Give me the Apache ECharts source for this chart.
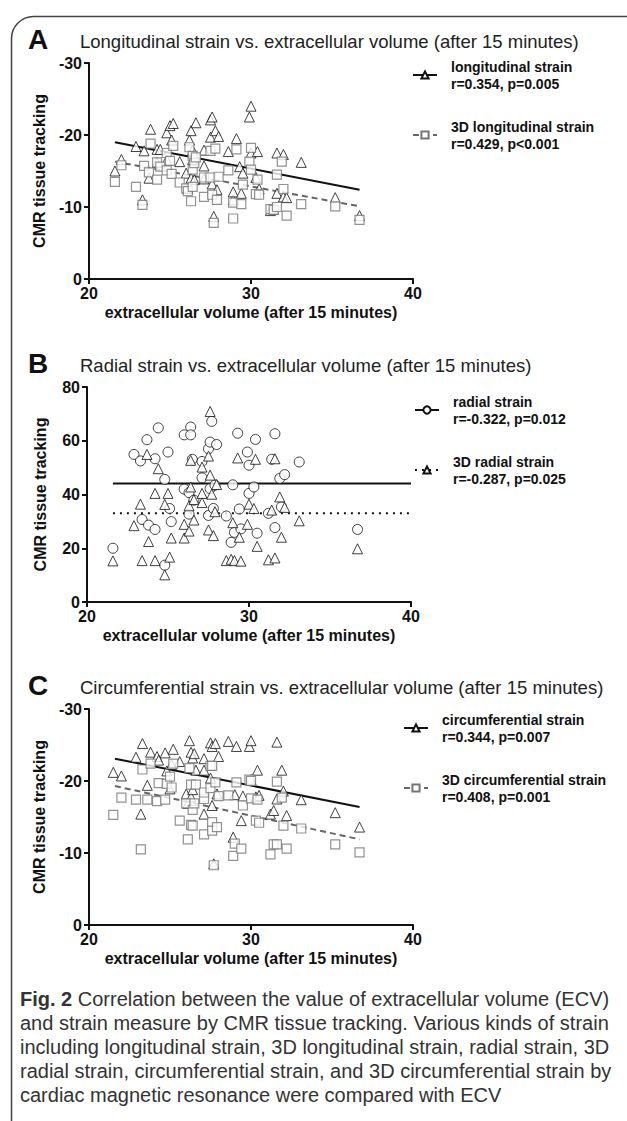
<!DOCTYPE html>
<html>
<head>
<meta charset="utf-8">
<script src="https://cdn.jsdelivr.net/npm/echarts@6/dist/echarts.min.js"></script>
<style>
  html, body { margin: 0; padding: 0; background: #fff; }
  #main { width: 627px; height: 1121px; }
</style>
</head>
<body>
<div id="main"></div>
<script>
// ---- data ----
// panel A: longitudinal strain (triangles) and 3D longitudinal strain (squares)
let longStrain = [[21.6,-15.0],[22.0,-16.6],[22.9,-18.4],[23.3,-11.0],[23.4,-17.8],[23.7,-14.0],[23.8,-20.8],[24.2,-18.0],[24.4,-18.0],[24.2,-16.2],
    [24.8,-20.3],[24.8,-16.5],[25.0,-21.3],[25.2,-21.6],[25.1,-19.3],[25.6,-16.3],[26.0,-14.7],[26.1,-12.6],[26.2,-19.3],[26.3,-20.6],
    [26.3,-14.0],[26.4,-16.6],[26.4,-17.9],[26.5,-13.8],[26.6,-21.7],[27.1,-17.9],[27.1,-15.7],[27.1,-13.9],[27.5,-22.1],[27.6,-22.5],
    [27.5,-19.7],[27.6,-13.2],[27.7,-8.7],[27.8,-20.6],[27.9,-12.4],[28.0,-19.8],[28.6,-17.7],[28.9,-11.0],[28.9,-12.1],[29.1,-19.5],
    [29.3,-15.6],[29.4,-11.9],[29.5,-14.7],[29.9,-22.5],[30.0,-24.0],[30.0,-17.5],[30.3,-14.1],[30.4,-17.7],[30.5,-12.5],[31.2,-9.5],
    [31.4,-9.7],[31.6,-17.5],[31.6,-11.9],[32.0,-17.3],[32.0,-11.4],[32.2,-11.3],[33.1,-16.2],[35.2,-11.3],[36.7,-8.8]];
let longStrain3D = [[21.6,-13.5],[22.0,-15.8],[22.9,-12.8],[23.3,-10.3],[23.4,-15.7],[23.7,-14.8],[23.8,-18.8],[24.2,-13.8],[24.2,-16.2],[24.4,-15.6],
    [24.8,-17.5],[24.8,-15.1],[25.0,-16.4],[25.1,-14.6],[25.2,-18.5],[25.6,-13.4],[26.0,-12.6],[26.1,-12.2],[26.2,-18.3],[26.3,-10.8],
    [26.4,-17.1],[26.4,-15.2],[26.4,-12.8],[26.5,-16.1],[26.6,-16.9],[27.1,-11.4],[27.1,-14.1],[27.5,-17.8],[27.5,-14.1],[27.6,-11.7],
    [27.7,-7.8],[27.8,-18.1],[27.9,-11.0],[28.0,-14.2],[28.6,-15.1],[28.9,-8.4],[28.9,-10.6],[29.1,-18.0],[29.4,-10.4],[29.5,-13.1],
    [29.9,-16.3],[30.0,-18.2],[30.0,-15.2],[30.3,-11.8],[30.4,-13.8],[30.5,-11.7],[31.2,-9.7],[31.4,-9.6],[31.6,-10.0],[31.6,-14.5],
    [31.9,-16.3],[32.0,-12.5],[32.2,-8.8],[33.1,-10.4],[35.2,-10.1],[36.7,-8.2]];
let fitLongX = [21.6, 36.7];
let fitLongY = [-19.0, -12.4];
let fitLong3DY = [-16.3, -10.1];

// panel B: radial strain (circles) and 3D radial strain (triangles)
let radialStrain = [[21.6,20.0],[22.9,54.9],[23.3,52.5],[23.4,30.7],[23.7,60.4],[23.8,28.6],[24.2,53.3],[24.2,27.0],[24.4,64.8],[24.8,45.6],
    [25.0,55.8],[25.1,34.8],[25.2,29.9],[24.8,13.7],[26.0,62.2],[26.0,42.0],[26.3,40.7],[26.4,65.1],[26.4,62.2],[26.3,32.7],
    [26.5,53.1],[26.6,37.9],[27.1,52.3],[27.1,46.2],[27.5,57.0],[27.6,59.5],[27.6,42.2],[27.5,32.2],[27.7,67.2],[27.8,34.8],
    [28.0,58.6],[27.9,43.5],[28.6,32.0],[28.9,22.2],[29.0,43.6],[29.1,25.9],[29.3,62.8],[29.4,34.6],[29.5,27.2],[29.9,55.8],
    [30.0,50.9],[30.0,40.4],[30.3,42.8],[30.4,60.5],[30.5,25.6],[31.2,33.0],[31.4,53.1],[31.6,62.6],[31.6,27.7],[31.9,46.0],
    [32.0,35.4],[32.2,47.4],[33.1,52.1],[36.7,27.0]];
let radialStrain3D = [[21.6,15.3],[22.9,28.4],[23.3,36.4],[23.4,15.4],[23.7,54.9],[23.8,22.5],[24.2,40.4],[24.2,15.4],[24.4,49.6],[24.8,36.3],
    [25.0,40.4],[25.1,16.7],[25.2,23.8],[24.8,10.1],[26.0,23.8],[26.0,28.9],[26.3,26.4],[26.3,35.8],[26.4,52.7],[26.4,42.8],
    [26.6,30.5],[26.6,38.1],[27.1,37.0],[27.1,40.4],[27.1,50.2],[27.5,54.3],[27.6,70.9],[27.6,47.2],[27.5,26.8],[27.7,40.1],
    [27.8,24.7],[27.9,33.6],[28.0,43.7],[28.6,15.4],[28.9,15.9],[29.0,29.5],[29.1,15.4],[29.3,53.6],[29.4,24.1],[29.5,15.2],
    [29.9,28.9],[30.0,36.4],[30.3,34.8],[30.4,53.1],[30.5,20.7],[31.2,15.7],[31.4,34.2],[31.6,53.3],[31.6,16.4],[31.9,39.1],
    [32.0,24.1],[32.2,35.2],[33.1,30.2],[36.7,19.8]];
let fitRadialX = [21.6, 40];
let fitRadialY = [44.1, 44.1];
let fitRadial3DY = [33.0, 33.0];

// panel C: circumferential strain (triangles) and 3D circumferential strain (squares)
let circStrain = [[21.5,-21.2],[22.0,-20.7],[22.9,-23.3],[23.2,-15.4],[23.3,-25.2],[23.6,-19.4],[23.8,-24.0],[24.2,-23.4],[24.3,-22.9],[24.7,-23.9],
    [24.8,-21.4],[25.0,-18.9],[25.1,-22.3],[25.2,-24.4],[25.6,-22.7],[26.0,-18.2],[26.1,-16.9],[26.2,-25.6],[26.3,-24.0],[26.3,-17.8],
    [26.4,-18.8],[26.4,-23.2],[26.5,-23.8],[26.6,-21.5],[27.1,-23.1],[27.1,-21.5],[27.1,-15.4],[27.5,-25.3],[27.6,-24.8],[27.5,-20.4],
    [27.6,-16.6],[27.7,-8.5],[27.8,-25.2],[27.9,-18.2],[28.0,-23.4],[28.6,-25.5],[28.9,-12.2],[29.0,-18.1],[29.1,-24.8],[29.4,-14.5],
    [29.5,-17.9],[29.9,-24.8],[30.0,-25.6],[30.0,-20.2],[30.3,-17.8],[30.4,-21.5],[30.5,-18.0],[31.2,-15.4],[31.4,-15.9],[31.6,-25.4],
    [31.6,-17.5],[31.9,-21.5],[32.0,-18.6],[32.2,-15.2],[33.1,-17.4],[35.2,-15.6],[36.7,-13.6]];
let circStrain3D = [[21.5,-15.3],[22.0,-17.7],[22.9,-17.4],[23.2,-10.5],[23.3,-21.6],[23.6,-17.4],[23.8,-22.4],[24.2,-17.2],[24.3,-19.7],[24.7,-17.4],
    [24.8,-19.6],[25.0,-20.6],[25.1,-19.1],[25.2,-22.4],[25.6,-14.5],[26.0,-16.9],[26.1,-11.9],[26.2,-21.8],[26.3,-13.9],[26.3,-19.5],
    [26.4,-13.8],[26.4,-16.0],[26.5,-16.9],[26.6,-19.5],[27.1,-12.6],[27.1,-17.5],[27.1,-18.4],[27.5,-22.1],[27.6,-22.1],[27.5,-19.0],
    [27.6,-14.3],[27.6,-13.1],[27.7,-8.3],[27.8,-19.8],[27.9,-13.6],[28.0,-17.9],[28.6,-18.0],[28.9,-9.6],[29.0,-11.3],[29.1,-19.8],
    [29.4,-10.6],[29.5,-16.6],[29.9,-20.2],[30.0,-20.0],[30.0,-17.6],[30.3,-14.5],[30.4,-17.4],[30.5,-14.2],[31.2,-9.8],[31.4,-11.2],
    [31.6,-11.2],[31.6,-19.9],[31.9,-17.7],[32.0,-13.8],[32.2,-10.6],[33.1,-13.4],[35.2,-11.2],[36.7,-10.1]];
let fitCircX = [21.6, 36.7];
let fitCircY = [-23.1, -16.4];
let fitCirc3DY = [-19.3, -11.9];

// labels
let panelLetters = ['A', 'B', 'C'];
let panelTitles = ['Longitudinal strain vs. extracellular volume (after 15 minutes)',
    'Radial strain vs. extracellular volume (after 15 minutes)',
    'Circumferential strain vs. extracellular volume (after 15 minutes)'];
let legendNames = [['longitudinal strain', '3D longitudinal strain'],
    ['radial strain', '3D radial strain'],
    ['circumferential strain', '3D circumferential strain']];
let legendStats = [['r=0.354, p=0.005', 'r=0.429, p<0.001'],
    ['r=-0.322, p=0.012', 'r=-0.287, p=0.025'],
    ['r=0.344, p=0.007', 'r=0.408, p=0.001']];
let xTitle = 'extracellular volume (after 15 minutes)';
let yTitle = 'CMR tissue tracking';
let captionLines = ['{b|Fig. 2} Correlation between the value of extracellular volume (ECV)',
    'and strain measure by CMR tissue tracking. Various kinds of strain',
    'including longitudinal strain, 3D longitudinal strain, radial strain, 3D',
    'radial strain, circumferential strain, and 3D circumferential strain by',
    'cardiac magnetic resonance were compared with ECV'];

// ---- layout ----
const FONT = '"Liberation Sans", Arial, sans-serif';
let grids = [
    {left: 89, top: 63, width: 324, height: 216},
    {left: 87, top: 387, width: 324, height: 215},
    {left: 89, top: 709, width: 324, height: 216}
];
let yRanges = [[-30, 0, 10, true], [0, 80, 20, false], [-30, 0, 10, true]];

function fitLine(xs, ys) {
    return xs.map(function (x, i) { return [x, ys[i]]; });
}

function makeX(i) {
    return {
        type: 'value', gridIndex: i, min: 20, max: 40, interval: 10,
        name: xTitle, nameLocation: 'middle', nameGap: 25,
        nameTextStyle: {color: '#111', fontWeight: 'bold', fontSize: 16, fontFamily: FONT},
        axisLine: {onZero: false, lineStyle: {color: '#111', width: 2}},
        axisTick: {length: 5, lineStyle: {color: '#111', width: 2}},
        axisLabel: {color: '#111', fontWeight: 'bold', fontSize: 16, margin: 6, fontFamily: FONT},
        splitLine: {show: false}
    };
}

function makeY(i) {
    let r = yRanges[i];
    return {
        type: 'value', gridIndex: i, min: r[0], max: r[1], interval: r[2], inverse: r[3],
        name: yTitle, nameLocation: 'middle', nameGap: 39,
        nameTextStyle: {color: '#111', fontWeight: 'bold', fontSize: 16, fontFamily: FONT},
        axisLine: {onZero: false, lineStyle: {color: '#111', width: 2}},
        axisTick: {length: 5, lineStyle: {color: '#111', width: 2}},
        axisLabel: {color: '#111', fontWeight: 'bold', fontSize: 16, margin: 7, fontFamily: FONT},
        splitLine: {show: false}
    };
}

let triStyle = {color: '#fff', borderColor: '#111', borderWidth: 1};
let sqStyle = {color: '#fff', borderColor: '#777', borderWidth: 1.2};
let cirStyle = {color: '#fff', borderColor: '#111', borderWidth: 1};

function scatter(name, idx, data, symbol, size, style) {
    return {
        name: name, type: 'scatter', xAxisIndex: idx, yAxisIndex: idx,
        data: data, symbol: symbol, symbolSize: size, itemStyle: style,
        z: 3, silent: true
    };
}

function fit(name, idx, data, symbol, size, style, lineType, lineColor) {
    return {
        name: name, type: 'line', xAxisIndex: idx, yAxisIndex: idx,
        data: data, showSymbol: false, symbol: symbol, symbolSize: size,
        itemStyle: style, lineStyle: {color: lineColor, width: 2, type: lineType},
        z: 2, silent: true
    };
}

let series = [
    fit(legendNames[0][0], 0, fitLine(fitLongX, fitLongY), 'triangle', 8, triStyle, 'solid', '#111'),
    fit(legendNames[0][1], 0, fitLine(fitLongX, fitLong3DY), 'rect', 8, sqStyle, [6, 4], '#666'),
    scatter('long pts', 0, longStrain, 'triangle', 10, triStyle),
    scatter('long3d pts', 0, longStrain3D, 'rect', 9, sqStyle),

    fit(legendNames[1][0], 1, fitLine(fitRadialX, fitRadialY), 'circle', 8, cirStyle, 'solid', '#111'),
    fit(legendNames[1][1], 1, fitLine(fitRadialX, fitRadial3DY), 'triangle', 8, triStyle, [2, 5], '#111'),
    scatter('radial pts', 1, radialStrain, 'circle', 10, cirStyle),
    scatter('radial3d pts', 1, radialStrain3D, 'triangle', 10, triStyle),

    fit(legendNames[2][0], 2, fitLine(fitCircX, fitCircY), 'triangle', 8, triStyle, 'solid', '#111'),
    fit(legendNames[2][1], 2, fitLine(fitCircX, fitCirc3DY), 'rect', 8, sqStyle, [6, 4], '#666'),
    scatter('circ pts', 2, circStrain, 'triangle', 10, triStyle),
    scatter('circ3d pts', 2, circStrain3D, 'rect', 9, sqStyle)
];

let legendPos = [{left: 407, top: 53}, {left: 409, top: 388}, {left: 398, top: 706}];
let legends = legendPos.map(function (p, i) {
    return {
        data: legendNames[i], orient: 'vertical', left: p.left, top: p.top,
        itemWidth: 24, itemHeight: 9, itemGap: 26, selectedMode: false,
        formatter: function (name) {
            return name + '\n' + legendStats[i][legendNames[i].indexOf(name)];
        },
        textStyle: {color: '#111', fontWeight: 'bold', fontSize: 14, lineHeight: 17,
            fontFamily: FONT, padding: [0, 0, 0, 9]}
    };
});

let titles = [];
grids.forEach(function (g, i) {
    titles.push({text: panelLetters[i], left: 28, top: g.top - 38, padding: 0,
        textStyle: {fontSize: 28, fontWeight: 'bold', color: '#111', fontFamily: FONT}});
    titles.push({text: panelTitles[i], left: 80, top: g.top - 31, padding: 0,
        textStyle: {fontSize: 18.5, fontWeight: 'normal', color: '#222', fontFamily: FONT}});
});
titles.push({
    text: captionLines.join('\n'), left: 20, top: 987, padding: 0,
    textStyle: {fontSize: 20, fontWeight: 'normal', color: '#333', lineHeight: 24, fontFamily: FONT,
        rich: {b: {fontSize: 20, fontWeight: 'bold', color: '#333', lineHeight: 24, fontFamily: FONT}}}
});

let myChart = echarts.init(document.getElementById('main'), null, {renderer: 'svg'});
let option = {
    animation: false,
    backgroundColor: '#fff',
    title: titles,
    legend: legends,
    grid: grids,
    xAxis: [makeX(0), makeX(1), makeX(2)],
    yAxis: [makeY(0), makeY(1), makeY(2)],
    series: series,
    graphic: [{
        type: 'rect', left: 9, top: 14, silent: true,
        shape: {x: 0, y: 0, width: 700, height: 1200, r: [22, 0, 0, 0]},
        style: {fill: 'none', stroke: '#444', lineWidth: 1.5}
    }]
};
myChart.setOption(option);
</script>
</body>
</html>
